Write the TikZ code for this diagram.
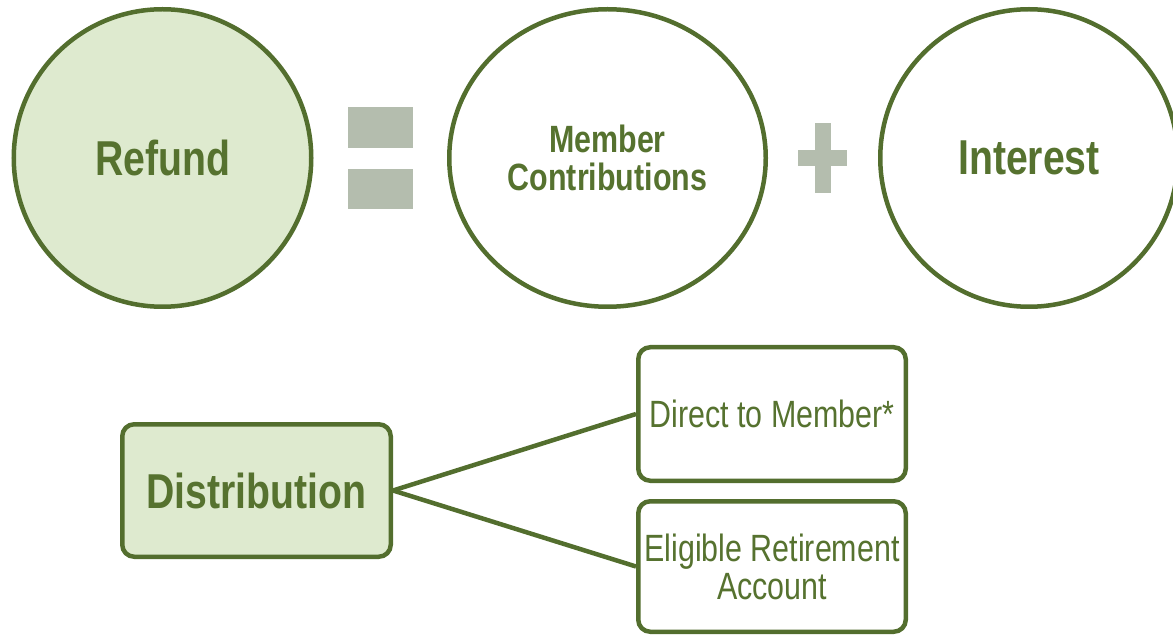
\documentclass[tikz,border=0pt]{standalone}
\usepackage{fontspec}
\usetikzlibrary{shapes.geometric}
\newfontfamily\narrowfont{Liberation Sans}[FakeStretch=0.8]
\definecolor{leaf}{HTML}{536E2E}
\definecolor{leaftext}{HTML}{56722F}
\definecolor{mint}{HTML}{DEEACF}
\definecolor{sage}{HTML}{B4BDAE}
\begin{document}
\begin{tikzpicture}[x=1pt,y=-1pt,
  ring/.style={circle,draw=leaf,line width=4.5pt,minimum size=297.5pt,inner sep=0pt,
    text=leaftext,align=center},
  card/.style={rectangle,rounded corners=12pt,draw=leaf,line width=4.5pt,inner sep=0pt,
    text=leaftext,align=center,minimum width=267.5pt},
  link/.style={draw=leaf,line width=4.5pt},
  bigbold/.style={font=\narrowfont\bfseries\fontsize{49}{52}\selectfont},
  midbold/.style={font=\narrowfont\bfseries\fontsize{38}{38}\selectfont},
  plain/.style={font=\narrowfont\fontsize{38}{38}\selectfont}]
\useasboundingbox (0,0) rectangle (1173,636);
\begin{scope}
\clip (0,0) rectangle (1173,636);

% top row: Refund = Member Contributions + Interest
\node[ring,fill=mint,bigbold] (refund) at (162.5,158) {Refund};
\node[ring,ellipse,minimum width=316.5pt,minimum height=297.5pt,midbold] (member) at (607.5,158)
  {Member\\Contributions};
\node[ring,bigbold] (interest) at (1029,158) {Interest};

% equals sign
\fill[sage] (348,107) rectangle (413,148);
\fill[sage] (348,169) rectangle (413,209);
% plus sign
\fill[sage] (815,123) rectangle (831,193);
\fill[sage] (798,150) rectangle (847,166);

% bottom row: distribution options
\node[card,fill=mint,minimum width=268.5pt,minimum height=132.5pt,font=\narrowfont\bfseries\fontsize{49}{50}\selectfont]
  (dist) at (256.5,490.5) {Distribution};
\node[card,fill=white,minimum height=133.5pt,plain] (direct) at (772,414) {Direct to Member*};
\node[card,fill=white,minimum height=130.5pt,plain] (elig) at (772,566.5)
  {Eligible Retirement\\Account};

\draw[link] (dist.east) -- (direct.west);
\draw[link] (dist.east) -- (elig.west);
\end{scope}
\end{tikzpicture}
\end{document}
